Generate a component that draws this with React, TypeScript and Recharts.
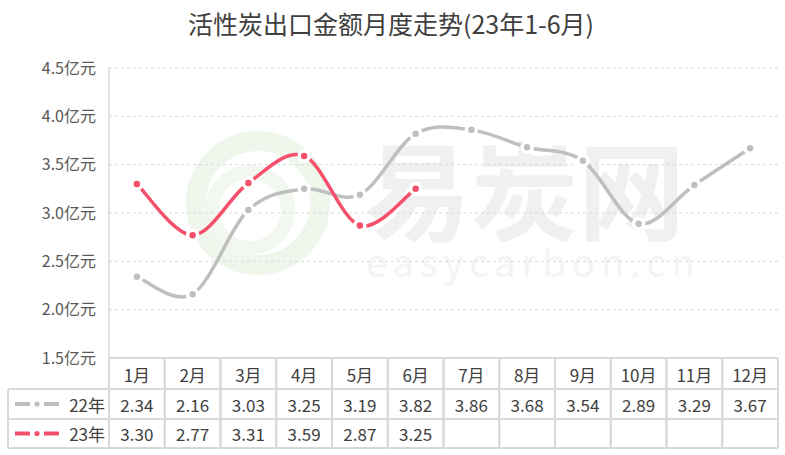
import React from 'react';
import { LineChart, Line, XAxis, YAxis, CartesianGrid } from 'recharts';

const months = ['1月', '2月', '3月', '4月', '5月', '6月', '7月', '8月', '9月', '10月', '11月', '12月'];
const values22 = [2.34, 2.16, 3.03, 3.25, 3.19, 3.82, 3.86, 3.68, 3.54, 2.89, 3.29, 3.67];
const values23: (number | null)[] = [3.3, 2.77, 3.31, 3.59, 2.87, 3.25, null, null, null, null, null, null];
const yTicks = [1.5, 2.0, 2.5, 3.0, 3.5, 4.0, 4.5];
const seriesNames = ['22年', '23年'];

const data = months.map((m, i) => ({ month: m, v22: values22[i], v23: values23[i] }));

const W = 785;
const H = 455;
const Y_AXIS_W = 109;
const M_RIGHT = 7;
const M_TOP = 68;
const PLOT_BOTTOM = 358;
const PLOT_W = W - Y_AXIS_W - M_RIGHT;
const COL = PLOT_W / 12;
const ROW_H = [31, 30, 29];
const LEGEND_LEFT = 8;

const GRAY = '#BFBFBF';
const RED = '#F4506B';
const BORDER = '#D9D9D9';
const TEXT = '#404040';
const FONT = '"Microsoft YaHei", "Noto Sans CJK SC", "Noto Sans", sans-serif';
const TABLE_FS = 17;

// Excel-like smoothing (uniform Catmull-Rom as cubic Bezier)
const excelCurve = (context: any) => {
  let pts: [number, number][] = [];
  return {
    areaStart() {},
    areaEnd() {},
    lineStart() {
      pts = [];
    },
    point(x: number, y: number) {
      pts.push([+x, +y]);
    },
    lineEnd() {
      const n = pts.length;
      if (!n) return;
      context.moveTo(pts[0][0], pts[0][1]);
      for (let i = 0; i < n - 1; i++) {
        const p0 = pts[i - 1] || pts[i];
        const p1 = pts[i];
        const p2 = pts[i + 1];
        const p3 = pts[i + 2] || pts[i + 1];
        const c1x = p1[0] + (p2[0] - p0[0]) / 6;
        const c1y = p1[1] + (p2[1] - p0[1]) / 6;
        const c2x = p2[0] - (p3[0] - p1[0]) / 6;
        const c2y = p2[1] - (p3[1] - p1[1]) / 6;
        context.bezierCurveTo(c1x, c1y, c2x, c2y, p2[0], p2[1]);
      }
    },
  };
};

const fmt = (v: number | null | undefined) => (v == null ? '' : v.toFixed(2));

const LegendSample = ({ x, y, color }: { x: number; y: number; color: string }) => (
  <g>
    <line x1={x} y1={y} x2={x + 15} y2={y} stroke={color} strokeWidth={4} />
    <circle cx={x + 22} cy={y} r={2.6} fill={color} />
    <line x1={x + 29} y1={y} x2={x + 44} y2={y} stroke={color} strokeWidth={4} />
  </g>
);

const TableTick = (props: any) => {
  const { x, y, index, payload } = props;
  const left = x - COL / 2;
  const top = y;
  const r1 = top + ROW_H[0];
  const r2 = r1 + ROW_H[1];
  const r3 = r2 + ROW_H[2];
  const i = index;
  const rowVals = [values22[i], values23[i]];
  const colors = [GRAY, RED];
  return (
    <g>
      <line x1={left} y1={top} x2={left + COL} y2={top} stroke={BORDER} strokeWidth={2} />
      <line x1={left} y1={r1} x2={left + COL} y2={r1} stroke={BORDER} strokeWidth={2} />
      <line x1={left} y1={r2} x2={left + COL} y2={r2} stroke={BORDER} strokeWidth={2} />
      <line x1={left} y1={r3} x2={left + COL} y2={r3} stroke={BORDER} strokeWidth={2} />
      <line x1={left} y1={top} x2={left} y2={r3} stroke={BORDER} strokeWidth={2} />
      <line x1={left + COL} y1={top} x2={left + COL} y2={r3} stroke={BORDER} strokeWidth={2} />
      <text x={x} y={top + ROW_H[0] / 2 + 1} textAnchor="middle" dominantBaseline="central" fontSize={TABLE_FS} fill={TEXT} fontFamily={FONT}>
        {payload.value}
      </text>
      {rowVals.map((v, k) => (
        <text key={k} x={x} y={(k === 0 ? r1 : r2) + ROW_H[k + 1] / 2} textAnchor="middle" dominantBaseline="central" fontSize={TABLE_FS} fill={TEXT} fontFamily={FONT}>
          {fmt(v)}
        </text>
      ))}
      {index === 0 && (
        <g>
          <line x1={LEGEND_LEFT} y1={r1} x2={left} y2={r1} stroke={BORDER} strokeWidth={2} />
          <line x1={LEGEND_LEFT} y1={r2} x2={left} y2={r2} stroke={BORDER} strokeWidth={2} />
          <line x1={LEGEND_LEFT} y1={r3} x2={left} y2={r3} stroke={BORDER} strokeWidth={2} />
          <line x1={LEGEND_LEFT} y1={r1} x2={LEGEND_LEFT} y2={r3} stroke={BORDER} strokeWidth={2} />
          {seriesNames.map((name, k) => {
            const cy = (k === 0 ? r1 : r2) + ROW_H[k + 1] / 2;
            return (
              <g key={name}>
                <LegendSample x={LEGEND_LEFT + 7} y={cy} color={colors[k]} />
                <text x={left - 4} y={cy} textAnchor="end" dominantBaseline="central" fontSize={TABLE_FS} fill={TEXT} fontFamily={FONT}>
                  {name}
                </text>
              </g>
            );
          })}
        </g>
      )}
    </g>
  );
};

const Background = () => (
  <svg width={W} height={H} style={{ position: 'absolute', left: 0, top: 0 }}>
    <text x={391} y={23} textAnchor="middle" dominantBaseline="central" fontSize={25} fill={TEXT} fontFamily={FONT}>
      活性炭出口金额月度走势(23年1-6月)
    </text>
    <g opacity={0.9}>
      <circle cx={258} cy={203} r={62} fill="none" stroke="#EEF7EC" strokeWidth={20} />
      <circle cx={250} cy={210} r={38} fill="none" stroke="#F1F8EE" strokeWidth={14} />
    </g>
    <text fontFamily={FONT}>
      <tspan x={364} y={232} fontSize={107} fill="#F0F0F0" fontWeight={700}>
        易炭网
      </tspan>
      <tspan x={366} y={277} fontSize={38} fill="#F4F4F4" letterSpacing={6}>
        easycarbon.cn
      </tspan>
    </text>
  </svg>
);

const dot = (color: string) => ({ r: 5, fill: color, stroke: '#FFFFFF', strokeWidth: 3.5 });

export default function App() {
  return (
    <div style={{ position: 'absolute', left: 0, top: 0, width: W, height: H, background: '#FFFFFF' }}>
      <Background />
      <div style={{ position: 'absolute', left: 0, top: 0 }}>
        <LineChart width={W} height={H} data={data} margin={{ top: M_TOP, right: M_RIGHT, left: 0, bottom: H - PLOT_BOTTOM - 90 }}>
          <CartesianGrid vertical={false} stroke={BORDER} strokeDasharray="3 3" />
          <XAxis
            dataKey="month"
            height={90}
            interval={0}
            tickLine={false}
            axisLine={false}
            tickSize={0}
            tickMargin={0}
            padding={{ left: COL / 2, right: COL / 2 }}
            tick={<TableTick />}
          />
          <YAxis
            width={Y_AXIS_W}
            domain={[1.5, 4.5]}
            ticks={yTicks}
            tickFormatter={(v: number) => `${v.toFixed(1)}亿元`}
            tickLine={false}
            tickSize={0}
            tickMargin={13}
            axisLine={{ stroke: BORDER, strokeWidth: 1.5 }}
            tick={{ fontSize: 16, fill: '#595959', fontFamily: FONT }}
          />
          <Line
            dataKey="v22"
            name={seriesNames[0]}
            type={excelCurve as any}
            stroke={GRAY}
            strokeWidth={3.5}
            dot={dot(GRAY)}
            activeDot={false}
            isAnimationActive={false}
          />
          <Line
            dataKey="v23"
            name={seriesNames[1]}
            type={excelCurve as any}
            stroke={RED}
            strokeWidth={3.5}
            dot={dot(RED)}
            activeDot={false}
            isAnimationActive={false}
          />
        </LineChart>
      </div>
    </div>
  );
}
